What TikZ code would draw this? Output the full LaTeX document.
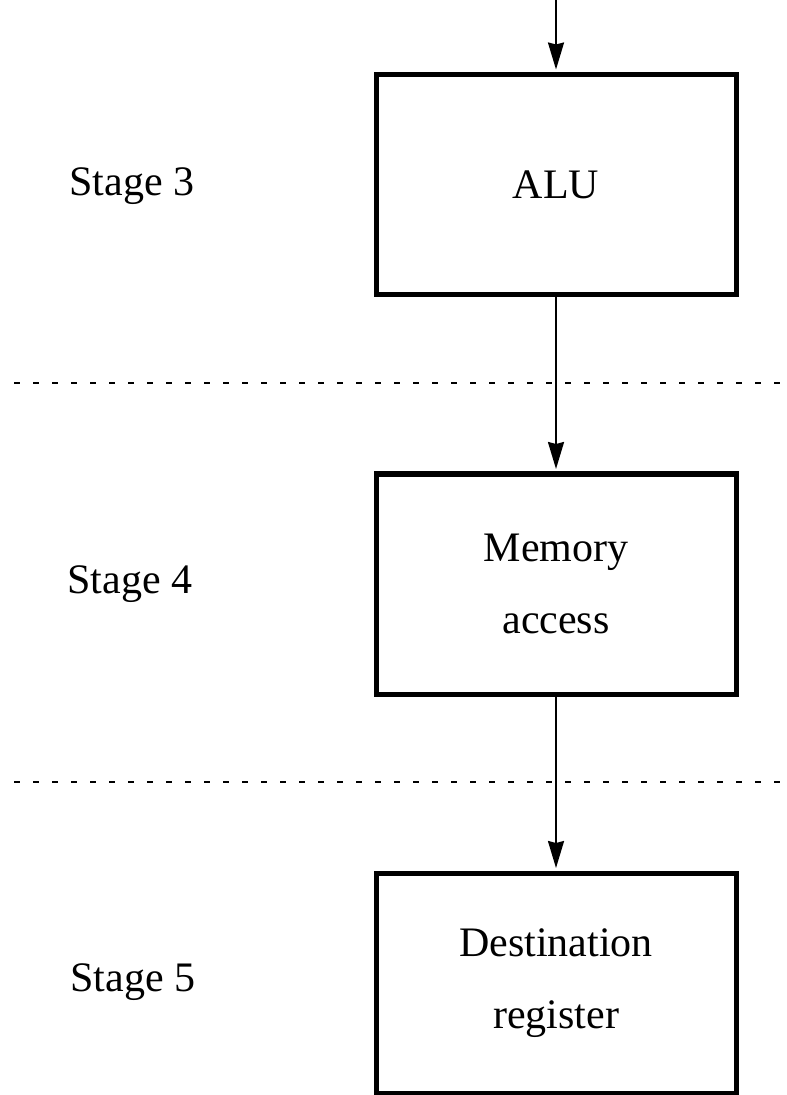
\documentclass[tikz,border=0pt]{standalone}
\usepackage{fontspec}
\setmainfont{Liberation Serif}
\usetikzlibrary{arrows.meta}

\begin{document}
\begin{tikzpicture}[x=0.5pt, y=-0.5pt, font=\fontsize{21}{36}\selectfont]
% frame
\useasboundingbox (0,0) rectangle (786,1095);

% coordinates
\coordinate (IN) at (556,0);
\coordinate (W1) at (14,383);
\coordinate (E1) at (786,383);
\coordinate (W2) at (14,782);
\coordinate (E2) at (786,782);

% stage borders
\draw[line width=1pt, dash pattern=on 3pt off 6.5pt] (W1) -- (E1);
\draw[line width=1pt, dash pattern=on 3pt off 6.5pt] (W2) -- (E2);

% units
\begin{scope}[every node/.style={draw, rectangle, line width=2.5pt, align=center,
    minimum width=180pt, minimum height=110pt}]
\node (alu) at (556,184.5) {ALU};
\node (mem) at (556,584) {Memory\\access};
\node (dst) at (556,983) {Destination\\register};
\end{scope}

% stage names
\node (s3) at (132,186) {Stage 3};
\node (s4) at (130,584) {Stage 4};
\node (s5) at (133,982) {Stage 5};

% flow
\begin{scope}[line width=1pt, -{Stealth[length=13.5pt, width=8pt, inset=1pt]}, shorten >=1.25pt]
\draw (IN) -- (alu);
\draw (alu) -- (mem);
\draw (mem) -- (dst);
\end{scope}

\end{tikzpicture}
\end{document}
